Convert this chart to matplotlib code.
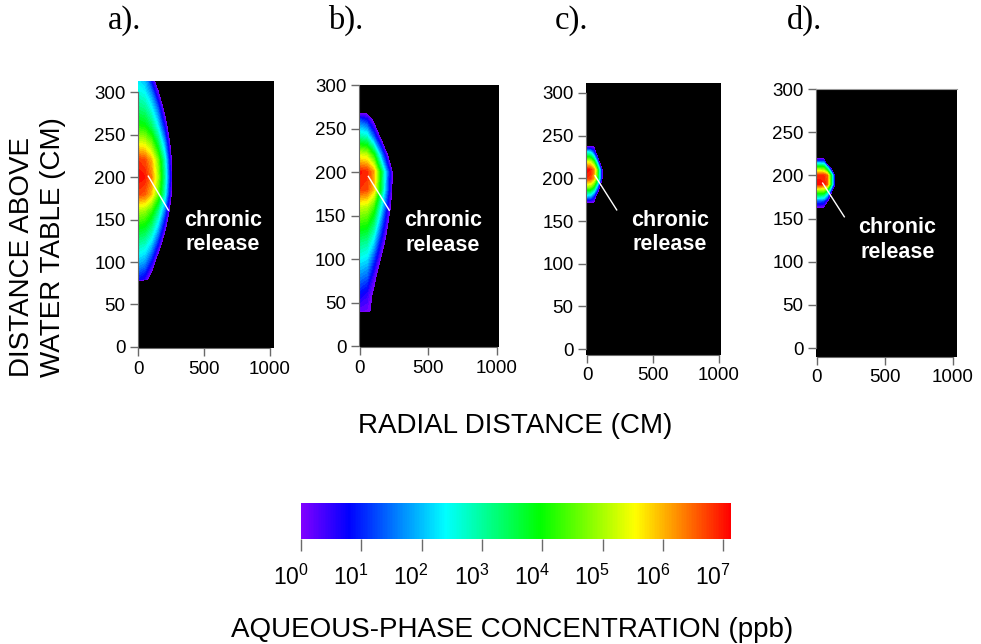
import numpy as np
import matplotlib
matplotlib.use("Agg")
import matplotlib.pyplot as plt
from matplotlib.colors import LinearSegmentedColormap, Normalize
from matplotlib.cm import ScalarMappable

plt.rcParams['font.family'] = ['Liberation Sans', 'DejaVu Sans']
plt.rcParams['mathtext.fontset'] = 'custom'
plt.rcParams['mathtext.rm'] = 'Liberation Sans'
plt.rcParams['mathtext.it'] = 'Liberation Sans:italic'
plt.rcParams['mathtext.bf'] = 'Liberation Sans:bold'

# ---------------- data ----------------
panel_labels = ['a).', 'b).', 'c).', 'd).']
y_ticks = [0, 50, 100, 150, 200, 250, 300]
x_ticks = [0, 500, 1000]
annotation_text = 'chronic\nrelease'

cbar_tick_values = [0, 1, 2, 3, 4, 5, 6, 7]
cbar_tick_labels = ['$10^{0}$', '$10^{1}$', '$10^{2}$', '$10^{3}$',
                    '$10^{4}$', '$10^{5}$', '$10^{6}$', '$10^{7}$']
log_conc_max = 7.13

# log10 concentration (ppb) on model nodes; rows = depth nodes (ascending), cols = radial nodes
r_nodes_ab = [0, 50, 100, 150, 200, 250, 300]
z_nodes_a = [60, 80, 100, 120, 140, 160, 180, 200, 220, 240, 260, 280, 300, 320]
logc_a = [
    [-9, -9, -9, -9, -9, -9, -9],
    [0.9, 0.54, -0.5, -9, -9, -9, -9],
    [2.0, 1.77, 0.84, -0.72, -9, -9, -9],
    [2.9, 2.72, 2.04, 0.80, -0.87, -9, -9],
    [3.9, 3.75, 3.14, 2.03, 0.37, -1.5, -9],
    [5.0, 4.87, 4.28, 3.15, 1.53, -0.6, -9],
    [6.7, 6.57, 5.91, 4.60, 2.76, 0.11, -2.6],
    [7.15, 7.0, 6.37, 5.0, 3.08, 0.39, -2.4],
    [6.8, 6.66, 6.0, 4.69, 2.82, 0.16, -2.5],
    [5.4, 5.28, 4.67, 3.51, 1.84, -0.40, -9],
    [4.1, 3.96, 3.38, 2.33, 0.74, -1.11, -9],
    [3.3, 3.14, 2.51, 1.41, -0.27, -9, -9],
    [2.6, 2.39, 1.60, 0.17, -1.53, -9, -9],
    [2.1, 1.73, 0.38, -1.52, -9, -9, -9],
]

z_nodes_b = [20, 40, 60, 80, 100, 120, 140, 160, 180, 200, 220, 240, 260, 280]
logc_b = [
    [-9, -9, -9, -9, -9, -9, -9],
    [0.15, 0.12, -0.14, -9, -9, -9, -9],
    [0.8, 0.54, -0.16, -9, -9, -9, -9],
    [1.6, 1.40, 0.34, -0.60, -9, -9, -9],
    [2.4, 2.24, 1.20, -0.02, -9, -9, -9],
    [3.2, 3.07, 2.21, 0.76, -0.47, -9, -9],
    [4.2, 4.08, 3.26, 1.61, 0.09, -1.41, -9],
    [5.2, 5.10, 4.35, 2.55, 0.73, -0.93, -9],
    [6.8, 6.69, 5.90, 3.71, 1.35, -0.70, -9],
    [7.0, 6.9, 6.13, 3.91, 1.50, -0.58, -9],
    [5.3, 5.14, 4.05, 1.93, 0.02, -2.0, -9],
    [3.0, 2.80, 1.43, -0.12, -9, -9, -9],
    [1.2, 0.80, -0.25, -9, -9, -9, -9],
    [-2.23, -1.49, -9, -9, -9, -9, -9],
]

r_nodes_cd = [0, 25, 50, 75, 100, 125, 150]
z_nodes_c = [160, 170, 180, 190, 200, 210, 220, 230, 240, 250]
logc_c = [
    [-9, -9, -9, -9, -9, -9, -9],
    [-0.575, -0.54, -0.32, -9, -9, -9, -9],
    [2.3, 2.17, 1.26, -0.32, -9, -9, -9],
    [4.9, 4.76, 4.0, 2.05, -0.51, -9, -9],
    [6.8, 6.70, 6.11, 4.48, 1.77, -1.18, -9],
    [7.05, 6.95, 6.34, 4.65, 1.83, -1.22, -9],
    [5.3, 5.13, 4.22, 1.87, -1.05, -9, -9],
    [2.6, 2.44, 1.28, -0.60, -9, -9, -9],
    [-1.11, -1.05, -0.55, -9, -9, -9, -9],
    [-9, -9, -9, -9, -9, -9, -9],
]

z_nodes_d = [150, 160, 170, 180, 190, 200, 210, 220, 230]
logc_d = [
    [-9, -9, -9, -9, -9, -9, -9],
    [-0.56, -0.55, -0.47, -9, -9, -9, -9],
    [1.3, 1.29, 1.09, 0.13, -0.95, -9, -9],
    [4.2, 4.19, 4.06, 2.88, 0.50, -2.0, -9],
    [7.05, 7.05, 6.98, 6.63, 4.16, 0.94, -2.42],
    [6.9, 6.9, 6.83, 6.49, 4.07, 0.92, -2.37],
    [4.0, 3.99, 3.80, 2.02, -0.64, -9, -9],
    [-0.44, -0.44, -0.42, -9, -9, -9, -9],
    [-9, -9, -9, -9, -9, -9, -9],
]

panels_data = [
    (r_nodes_ab, z_nodes_a, logc_a),
    (r_nodes_ab, z_nodes_b, logc_b),
    (r_nodes_cd, z_nodes_c, logc_c),
    (r_nodes_cd, z_nodes_d, logc_d),
]

# ---------------- layout ----------------
W, H = 981, 644
def rect(l, r, t, b):
    return [l / W, 1 - b / H, (r - l) / W, (b - t) / H]

layout = [
    dict(rect=rect(138, 274, 81, 348), xlim=(0, 1030), ylim=(-1.2, 313), title_x=125,
         line=((78, 201), (230, 161)), text=(644, 135), top=False),
    dict(rect=rect(359, 499, 85, 347), xlim=(-7, 1015), ylim=(-1.1, 300), title_x=346,
         line=((61, 195), (214, 156)), text=(604, 130), top=False),
    dict(rect=rect(586, 721, 83, 355), xlim=(-7.6, 1015), ylim=(-7, 311.7), title_x=572,
         line=((61, 203), (225, 163)), text=(626, 137), top=False),
    dict(rect=rect(816, 957, 89, 357), xlim=(-7, 1029), ylim=(-10.4, 300), title_x=805,
         line=((42, 191), (201, 152)), text=(590, 125), top=True),
]

cmap = LinearSegmentedColormap.from_list(
    'rainbow_r', [(0.0, '#8000FF'), (0.11, '#0000FF'), (0.336, '#00FFFF'),
                  (0.557, '#00FF00'), (0.778, '#FFFF00'), (1.0, '#FF0000')])
norm = Normalize(vmin=0, vmax=log_conc_max)
levels = np.linspace(0, log_conc_max, 46)
grey = '#6a6a6a'

fig = plt.figure(figsize=(W / 100, H / 100), dpi=100)

for (rn, zn, vals), lay, lab in zip(panels_data, layout, panel_labels):
    ax = fig.add_axes(lay['rect'])
    ax.set_facecolor('black')
    ax.contourf(np.array(rn), np.array(zn), np.array(vals), levels=levels,
                cmap=cmap, norm=norm, extend='max')
    ax.set_xlim(*lay['xlim'])
    ax.set_ylim(*lay['ylim'])
    ax.set_xticks(x_ticks)
    ax.set_yticks(y_ticks)
    ax.tick_params(direction='out', length=6, width=1, color=grey,
                   labelsize=13.5, pad=3)
    ax.spines['right'].set_visible(False)
    ax.spines['top'].set_visible(lay['top'])
    ax.spines['top'].set_color('#999999')
    ax.spines['left'].set_color(grey)
    ax.spines['bottom'].set_color(grey)
    ax.spines['left'].set_bounds(0, 300)
    ax.spines['bottom'].set_bounds(0, 1000)
    (x0, y0), (x1, y1) = lay['line']
    ax.plot([x0, x1], [y0, y1], color='white', lw=1)
    ax.text(lay['text'][0], lay['text'][1], annotation_text, color='white',
            fontweight='bold', fontsize=15.5, ha='center', va='center',
            linespacing=1.2)
    fig.text(lay['title_x'] / W, 1 - 29 / H, lab, ha='center', va='baseline',
             fontsize=23.5, family=['Liberation Serif', 'DejaVu Serif'])

fig.text(38 / W, 1 - 377 / H, 'DISTANCE ABOVE\nWATER TABLE (CM)', rotation=90,
         ha='center', va='bottom', multialignment='left', fontsize=20,
         linespacing=1.25)
fig.text(515 / W, 1 - 433 / H, 'RADIAL DISTANCE (CM)', ha='center',
         va='baseline', fontsize=20)

# colorbar
cax = fig.add_axes(rect(301, 731, 503, 539))
sm = ScalarMappable(norm=norm, cmap=cmap)
cb = fig.colorbar(sm, cax=cax, orientation='horizontal')
cb.outline.set_visible(False)
cb.set_ticks(cbar_tick_values)
cax.tick_params(axis='x', direction='out', length=8.6, width=1, color=grey,
                labelbottom=False)
for v, lbl in zip(cbar_tick_values, cbar_tick_labels):
    cax.annotate(lbl, xy=(v, 0), xycoords=('data', 'axes fraction'),
                 xytext=(-7.5, -27.5), textcoords='offset points',
                 ha='center', va='center', fontsize=16.5)
fig.text(512 / W, 1 - 637 / H, 'AQUEOUS-PHASE CONCENTRATION (ppb)',
         ha='center', va='baseline', fontsize=20)

fig.savefig('out.png', dpi=100)
